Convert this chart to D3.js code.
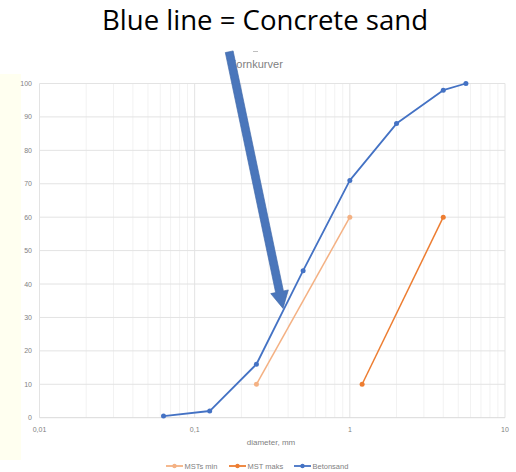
<!DOCTYPE html>
<html>
<head>
<meta charset="utf-8">
<script src="https://cdn.jsdelivr.net/npm/d3@7"></script>
<style>
  body { margin: 0; background: #fff; }
  svg { display: block; }
</style>
</head>
<body>
<div id="chart"></div>
<script>
// kornkurver: diameter (mm) against passing (%)
const betonsandX = [0.063, 0.125, 0.25, 0.5, 1, 2, 4, 5.6];
const betonsandY = [0.5, 2, 16, 44, 71, 88, 98, 100];
const mstMinX = [0.25, 1];
const mstMinY = [10, 60];
const mstMaksX = [1.2, 4];
const mstMaksY = [10, 60];
const yTicks = [0, 10, 20, 30, 40, 50, 60, 70, 80, 90, 100];
const xTicks = [0.01, 0.1, 1, 10];
const xTickLabels = ["0,01", "0,1", "1", "10"];

const series = [
    { name: "MSTs min", color: "#f4b183", xs: mstMinX, ys: mstMinY, width: 1.5 },
    { name: "MST maks", color: "#ed7d31", xs: mstMaksX, ys: mstMaksY, width: 1.5 },
    { name: "Betonsand", color: "#4472c4", xs: betonsandX, ys: betonsandY, width: 1.8 }
];

const W = 516, H = 472;
const svg = d3.select("#chart").append("svg")
    .attr("width", W)
    .attr("height", H);

// pale panel on the left edge
svg.append("rect")
    .attr("x", 0).attr("y", 74)
    .attr("width", 21).attr("height", 386)
    .attr("fill", "#fffff0");

const x = d3.scaleLog().domain([0.01, 10]).range([39.5, 505]);
const y = d3.scaleLinear().domain([0, 100]).range([417.7, 83.5]);

// minor vertical grid
const minor = [];
[0.01, 0.1, 1].forEach(d => {
    for (let k = 2; k <= 9; k++) minor.push(d * k);
});
svg.append("g")
    .selectAll("line")
    .data(minor)
    .join("line")
    .attr("x1", d => x(d)).attr("x2", d => x(d))
    .attr("y1", y(0)).attr("y2", y(100))
    .attr("stroke", "#f2f2f2")
    .attr("stroke-width", 1);

// major vertical grid
svg.append("g")
    .selectAll("line")
    .data(xTicks)
    .join("line")
    .attr("x1", d => x(d)).attr("x2", d => x(d))
    .attr("y1", y(0)).attr("y2", y(100))
    .attr("stroke", "#e3e3e3")
    .attr("stroke-width", 1);

// horizontal grid
svg.append("g")
    .selectAll("line")
    .data(yTicks)
    .join("line")
    .attr("x1", x(0.01)).attr("x2", x(10))
    .attr("y1", d => y(d)).attr("y2", d => y(d))
    .attr("stroke", d => d === 0 ? "#d9d9d9" : "#e3e3e3")
    .attr("stroke-width", 1);

// y labels
svg.append("g")
    .selectAll("text")
    .data(yTicks)
    .join("text")
    .attr("x", 32)
    .attr("y", d => y(d) + 2.5)
    .attr("text-anchor", "end")
    .attr("font-family", "Liberation Sans, Arial, sans-serif")
    .attr("font-size", "7px")
    .attr("fill", "#7f7f7f")
    .text(d => d);

// x labels
svg.append("g")
    .selectAll("text")
    .data(xTicks)
    .join("text")
    .attr("x", d => x(d))
    .attr("y", 432)
    .attr("text-anchor", "middle")
    .attr("font-family", "Liberation Sans, Arial, sans-serif")
    .attr("font-size", "7px")
    .attr("fill", "#7f7f7f")
    .text((d, i) => xTickLabels[i]);

svg.append("text")
    .attr("x", 271).attr("y", 445)
    .attr("text-anchor", "middle")
    .attr("font-family", "Liberation Sans, Arial, sans-serif")
    .attr("font-size", "8px")
    .attr("fill", "#7f7f7f")
    .text("diameter, mm");

// chart title (its K sits under the arrow)
svg.append("text")
    .attr("x", 229).attr("y", 68)
    .attr("font-family", "Liberation Sans, Arial, sans-serif")
    .attr("font-size", "11px")
    .attr("fill", "#7f7f7f")
    .text("Kornkurver");
svg.append("line")
    .attr("x1", 253).attr("x2", 258)
    .attr("y1", 51.5).attr("y2", 51.5)
    .attr("stroke", "#bfbfbf");

// series
const line = d3.line()
    .x(d => x(d[0]))
    .y(d => y(d[1]));

series.forEach(s => {
    const pts = s.xs.map((v, i) => [v, s.ys[i]]);
    const g = svg.append("g");
    g.append("path")
        .datum(pts)
        .attr("d", line)
        .attr("fill", "none")
        .attr("stroke", s.color)
        .attr("stroke-width", s.width)
        .attr("stroke-linejoin", "round");
    g.selectAll("circle")
        .data(pts)
        .join("circle")
        .attr("cx", d => x(d[0]))
        .attr("cy", d => y(d[1]))
        .attr("r", 2.5)
        .attr("fill", s.color);
});

// legend
const legendX = [166, 229, 294];
const legend = svg.append("g")
    .selectAll("g")
    .data(series)
    .join("g")
    .attr("transform", (d, i) => `translate(${legendX[i]},466)`);
legend.append("line")
    .attr("x1", 0).attr("x2", 17)
    .attr("stroke", d => d.color)
    .attr("stroke-width", 1.8);
legend.append("circle")
    .attr("cx", 8.5).attr("r", 2.2)
    .attr("fill", d => d.color);
legend.append("text")
    .attr("x", 18.5).attr("y", 2.7)
    .attr("font-family", "Liberation Sans, Arial, sans-serif")
    .attr("font-size", "7.5px")
    .attr("fill", "#7f7f7f")
    .text(d => d.name);

// annotation arrow pointing at the concrete sand curve
const arrowFrom = [0.167, 109.5];
const arrowTo = [0.371, 32.7];
const x0 = x(arrowFrom[0]), y0 = y(arrowFrom[1]);
const x1 = x(arrowTo[0]), y1 = y(arrowTo[1]);
const ang = Math.atan2(y1 - y0, x1 - x0);
const len = Math.hypot(x1 - x0, y1 - y0);
const shaft = 4, head = 9, headLen = 17;
svg.append("path")
    .attr("transform", `translate(${x0},${y0}) rotate(${ang * 180 / Math.PI})`)
    .attr("d", `M0,${-shaft} L${len - headLen},${-shaft} L${len - headLen},${-head} L${len},0 L${len - headLen},${head} L${len - headLen},${shaft} L0,${shaft} Z`)
    .attr("fill", "#4a76bb")
    .attr("stroke", "#3f67a8")
    .attr("stroke-width", 0.6);

// slide heading
svg.append("text")
    .attr("x", 102).attr("y", 30)
    .attr("font-family", "Open Sans, Liberation Sans, sans-serif")
    .attr("font-size", "27px")
    .attr("fill", "#000")
    .attr("textLength", 326)
    .attr("lengthAdjust", "spacingAndGlyphs")
    .text("Blue line = Concrete sand");
</script>
</body>
</html>
